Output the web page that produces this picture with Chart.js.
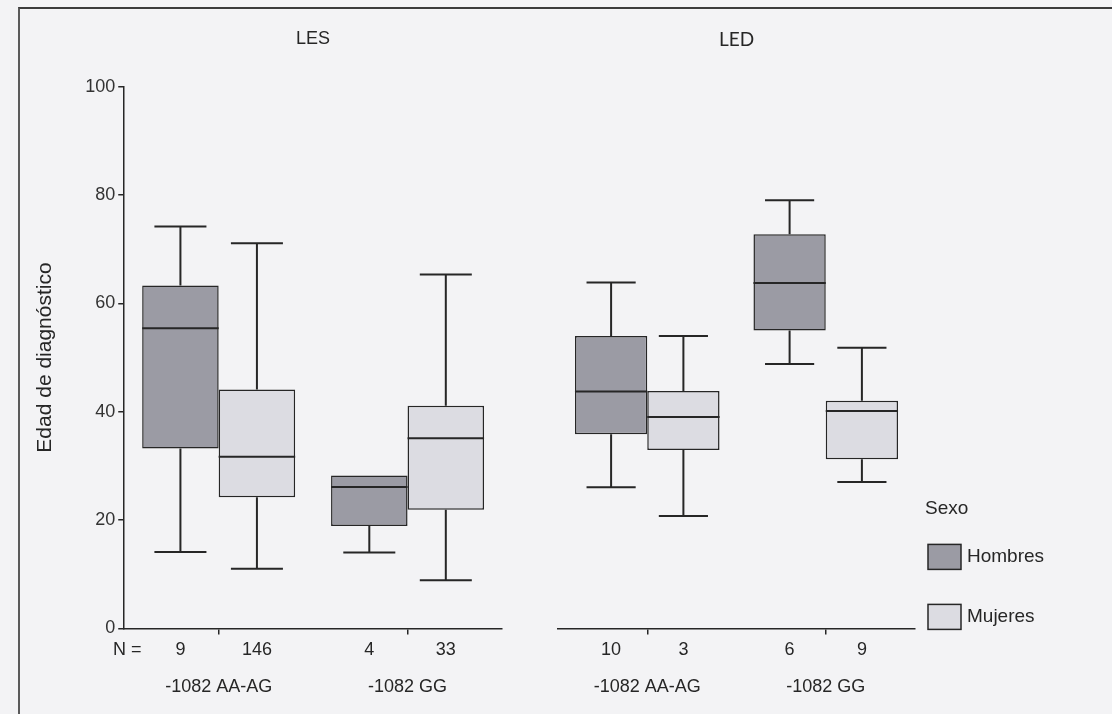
<!DOCTYPE html>
<html lang="es">
<head>
<meta charset="utf-8">
<title>Edad de diagnóstico según genotipo -1082</title>
<script src="https://cdn.jsdelivr.net/npm/chart.js@4.4.1/dist/chart.umd.min.js"></script>
<style>
  html, body { margin: 0; padding: 0; }
  body { width: 1112px; height: 714px; background: #f3f3f5; position: relative; overflow: hidden; }
  #frame { position: absolute; left: 18px; top: 7px; width: 1110px; height: 720px;
           border-top: 2px solid #3c3c3c; border-left: 2px solid #5a5a5a; }
  canvas { position: absolute; top: 0; }
  #lesChart { left: 0; }
  #ledChart { left: 500px; }
</style>
</head>
<body>
<div id="frame"></div>
<canvas id="lesChart" width="530" height="740"></canvas>
<canvas id="ledChart" width="612" height="740"></canvas>
<script>
var groups = ["-1082 AA-AG", "-1082 GG"];
var sexes = ["Hombres", "Mujeres"];
var yTicks = [0, 20, 40, 60, 80, 100];

// one box per group: [min, Q1, median, Q3, max]
var lesHombres = [[14.1, 33.2, 55.4, 63.3, 74.2], [14.0, 18.9, 26.1, 28.2, 28.2]];
var lesMujeres = [[11.0, 24.2, 31.7, 44.1, 71.1], [8.9, 21.9, 35.1, 41.1, 65.3]];
var ledHombres = [[26.1, 35.9, 43.8, 54.1, 64.0], [48.9, 55.1, 63.9, 72.9, 79.2]];
var ledMujeres = [[20.8, 33.0, 39.1, 43.9, 54.1], [27.1, 31.3, 40.2, 42.1, 51.9]];

// sample sizes per group
var lesNHombres = [9, 4];
var lesNMujeres = [146, 33];
var ledNHombres = [10, 6];
var ledNMujeres = [3, 9];

var fillColors = ["#9b9ba4", "#dcdce2"];
var ink = "#262626";
var fontFamily = "'Liberation Sans', Arial, sans-serif";

Chart.defaults.font.family = fontFamily;
Chart.defaults.font.size = 18;
Chart.defaults.color = ink;

// medians and whiskers on top of the floating bars
var whiskerPlugin = {
    id: "whiskers",
    afterDatasetsDraw: function (chart) {
        var ctx = chart.ctx;
        var y = chart.scales.y;
        ctx.save();
        ctx.strokeStyle = ink;
        ctx.lineWidth = 2;
        chart.data.datasets.forEach(function (ds, i) {
            chart.getDatasetMeta(i).data.forEach(function (bar, j) {
                var b = ds.boxes[j];
                var half = bar.width / 2;
                var cap = bar.width * 0.34;
                var yMin = y.getPixelForValue(b[0]);
                var yQ1 = y.getPixelForValue(b[1]);
                var yMed = y.getPixelForValue(b[2]);
                var yQ3 = y.getPixelForValue(b[3]);
                var yMax = y.getPixelForValue(b[4]);
                ctx.beginPath();
                ctx.moveTo(bar.x - half, yMed);
                ctx.lineTo(bar.x + half, yMed);
                if (b[4] > b[3]) {
                    ctx.moveTo(bar.x, yQ3);
                    ctx.lineTo(bar.x, yMax);
                    ctx.moveTo(bar.x - cap, yMax);
                    ctx.lineTo(bar.x + cap, yMax);
                }
                if (b[0] < b[1]) {
                    ctx.moveTo(bar.x, yQ1);
                    ctx.lineTo(bar.x, yMin);
                    ctx.moveTo(bar.x - cap, yMin);
                    ctx.lineTo(bar.x + cap, yMin);
                }
                ctx.stroke();
            });
        });
        ctx.restore();
    }
};

// "N =" row under the axis
var countsPlugin = {
    id: "counts",
    afterDraw: function (chart, args, opts) {
        var ctx = chart.ctx;
        var yText = chart.chartArea.bottom + 22;
        ctx.save();
        ctx.font = "18px " + fontFamily;
        ctx.fillStyle = ink;
        ctx.textAlign = "center";
        ctx.textBaseline = "middle";
        if (opts.showPrefix) {
            ctx.fillText("N =", chart.chartArea.left + 3, yText);
        }
        chart.data.datasets.forEach(function (ds, i) {
            chart.getDatasetMeta(i).data.forEach(function (bar, j) {
                ctx.fillText(String(ds.counts[j]), bar.x, yText);
            });
        });
        ctx.restore();
    }
};

// legend block "Sexo" to the right of the plot
var sexLegendPlugin = {
    id: "sexLegend",
    afterDraw: function (chart, args, opts) {
        if (!opts.display) return;
        var ctx = chart.ctx;
        var x0 = chart.chartArea.right;
        var y0 = chart.chartArea.bottom;
        ctx.save();
        ctx.font = "19px " + fontFamily;
        ctx.fillStyle = ink;
        ctx.textBaseline = "middle";
        ctx.textAlign = "left";
        ctx.fillText(opts.title, x0 + 10, y0 - 120);
        chart.data.datasets.forEach(function (ds, i) {
            var top = y0 - 84 + i * 60;
            ctx.fillStyle = ds.backgroundColor;
            ctx.fillRect(x0 + 13, top, 33, 25);
            ctx.strokeStyle = ink;
            ctx.lineWidth = 1.5;
            ctx.strokeRect(x0 + 13, top, 33, 25);
            ctx.fillStyle = ink;
            ctx.fillText(ds.label, x0 + 52, top + 12.5);
        });
        ctx.restore();
    }
};

function boxDataset(label, boxes, counts, color) {
    return {
        label: label,
        data: boxes.map(function (b) { return [b[1], b[3]]; }),
        boxes: boxes,
        counts: counts,
        backgroundColor: color,
        borderColor: ink,
        borderWidth: 1.5,
        borderSkipped: false,
        barPercentage: 1,
        categoryPercentage: 0.81
    };
}

function boxChart(canvasId, title, titleFont, hombres, mujeres, nH, nM, side) {
    var ctx = document.getElementById(canvasId).getContext("2d");
    return new Chart(ctx, {
        type: "bar",
        data: {
            labels: groups,
            datasets: [
                boxDataset(sexes[0], hombres, nH, fillColors[0]),
                boxDataset(sexes[1], mujeres, nM, fillColors[1])
            ]
        },
        options: {
            responsive: false,
            animation: false,
            layout: { padding: side.padding },
            plugins: {
                legend: { display: false },
                tooltip: { enabled: false },
                title: {
                    display: true,
                    text: title,
                    fullSize: false,
                    color: ink,
                    font: titleFont,
                    padding: { top: 28, bottom: 37 }
                },
                counts: { showPrefix: side.prefix },
                sexLegend: { display: side.legend, title: "Sexo" }
            },
            scales: {
                x: {
                    offset: true,
                    grid: { drawOnChartArea: false, offset: false, color: ink, lineWidth: 1.5, tickLength: 6 },
                    border: { color: ink, width: 1.5 },
                    ticks: { padding: 42, color: ink, font: { size: 18 } }
                },
                y: {
                    display: side.yAxis,
                    min: yTicks[0],
                    max: yTicks[yTicks.length - 1],
                    grid: { drawOnChartArea: false, color: ink, lineWidth: 1.5, tickLength: 6 },
                    border: { color: ink, width: 1.5 },
                    ticks: { stepSize: 20, padding: 3, color: "#333", font: { size: 18 } },
                    title: {
                        display: true,
                        text: "Edad de diagnóstico",
                        color: ink,
                        font: { size: 21 },
                        padding: { top: 0, bottom: 24 }
                    }
                }
            }
        },
        plugins: [whiskerPlugin, countsPlugin, sexLegendPlugin]
    });
}

var lesChart = boxChart("lesChart", "LES", { size: 18, weight: "normal" },
    lesHombres, lesMujeres, lesNHombres, lesNMujeres,
    { padding: { left: 33, right: 28, top: 0, bottom: 0 }, prefix: true, legend: false, yAxis: true });

var ledChart = boxChart("ledChart", "LED", { family: "Lato, 'Open Sans', sans-serif", size: 19, weight: "normal" },
    ledHombres, ledMujeres, ledNHombres, ledNMujeres,
    { padding: { left: 58, right: 197, top: 0, bottom: 0 }, prefix: false, legend: true, yAxis: false });
</script>
</body>
</html>
